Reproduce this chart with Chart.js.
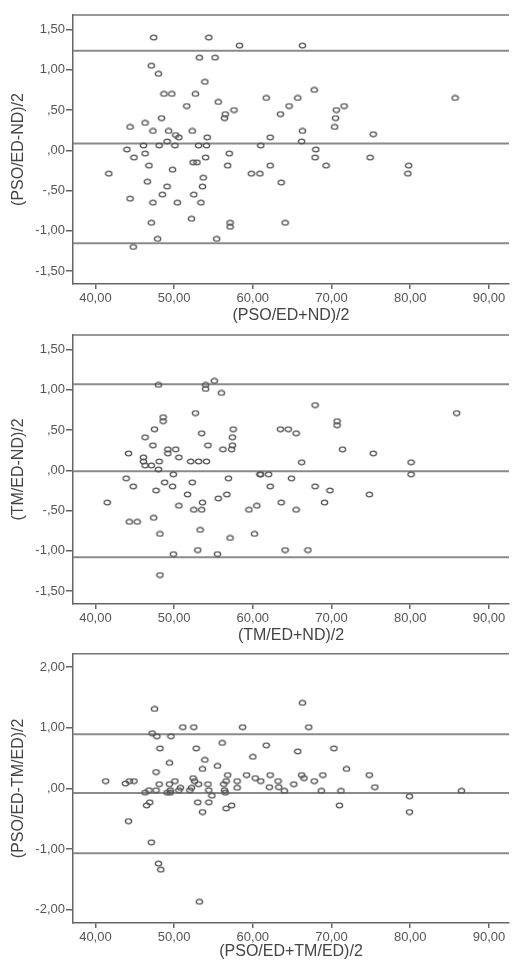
<!DOCTYPE html>
<html>
<head>
<meta charset="utf-8">
<script src="https://cdn.jsdelivr.net/npm/chart.js@4.4.1/dist/chart.umd.min.js"></script>
<style>
  html, body { margin: 0; padding: 0; background: #fff; }
  body { width: 514px; height: 961px; position: relative; overflow: hidden; }
  canvas { position: absolute; left: 0; }
</style>
</head>
<body>
<canvas id="p1" width="514" height="325" style="top:0"></canvas>
<canvas id="p2" width="514" height="320" style="top:325px"></canvas>
<canvas id="p3" width="514" height="316" style="top:645px"></canvas>
<script>
// shared x axis
const xRange = [37.15, 92.55];
const xTicks = [40, 50, 60, 70, 80, 90];

// panel 1: (PSO/ED-ND)/2 vs (PSO/ED+ND)/2
const p1Mean = [47.4, 54.4, 58.3, 66.3, 53.2, 55.2, 47.1, 48.0, 53.9, 67.8, 48.7, 49.7, 52.7, 61.7, 65.7, 85.7,
  55.6, 51.6, 64.6, 71.6, 57.6, 70.6, 56.5, 63.5, 56.4, 48.4, 70.5, 46.3, 44.4, 70.4, 47.3, 49.3, 52.3, 66.3,
  75.3, 50.2, 50.6, 54.2, 62.2, 49.1, 66.2, 46.1, 48.1, 50.1, 53.1, 54.1, 61.0, 44.0, 68.0, 46.3, 57.0, 44.9,
  54.0, 67.9, 74.9, 52.4, 52.9, 46.8, 56.8, 62.2, 69.3, 79.8, 49.8, 41.7, 59.8, 60.9, 79.7, 53.7, 46.6, 63.6,
  49.1, 53.6, 48.5, 52.5, 44.4, 47.3, 50.4, 53.4, 52.2, 47.1, 57.1, 64.1, 57.1, 47.9, 55.4, 44.8];
const p1Diff = [1.40, 1.40, 1.30, 1.30, 1.15, 1.15, 1.05, 0.95, 0.85, 0.75, 0.70, 0.70, 0.70, 0.65, 0.65, 0.65,
  0.60, 0.55, 0.55, 0.55, 0.50, 0.50, 0.45, 0.45, 0.40, 0.40, 0.40, 0.34, 0.29, 0.29, 0.24, 0.24, 0.24, 0.24,
  0.20, 0.19, 0.16, 0.16, 0.16, 0.11, 0.11, 0.06, 0.06, 0.06, 0.06, 0.06, 0.06, 0.01, 0.01, -0.04, -0.04, -0.09,
  -0.09, -0.09, -0.09, -0.15, -0.15, -0.19, -0.19, -0.19, -0.19, -0.19, -0.24, -0.29, -0.29, -0.29, -0.29, -0.34, -0.39, -0.40,
  -0.45, -0.45, -0.55, -0.55, -0.60, -0.65, -0.65, -0.65, -0.85, -0.90, -0.90, -0.90, -0.95, -1.10, -1.10, -1.20];
const p1Limits = [1.235, 0.083, -1.153];
const p1YRange = [-1.66, 1.68];
const p1YTicks = [-1.5, -1, -0.5, 0, 0.5, 1, 1.5];

// panel 2: (TM/ED-ND)/2 vs (TM/ED+ND)/2
const p2Mean = [48.0, 54.0, 54.0, 55.1, 56.0, 67.9, 52.7, 85.9, 48.6, 48.6, 70.7, 70.7, 47.5, 57.5, 63.5, 64.5,
  53.5, 65.5, 46.3, 57.4, 47.3, 54.3, 57.4, 49.2, 50.2, 56.2, 57.3, 71.4, 44.2, 49.2, 75.3, 46.1, 50.6, 46.1,
  48.1, 52.1, 53.1, 54.1, 66.2, 80.1, 46.3, 47.1, 48.0, 49.9, 60.9, 61.0, 62.0, 80.1, 43.9, 56.9, 64.9, 48.8,
  52.3, 44.8, 49.8, 62.2, 67.9, 47.7, 69.8, 51.7, 56.7, 74.8, 55.6, 41.5, 53.6, 63.6, 69.1, 50.6, 60.5, 52.5,
  53.5, 59.5, 65.5, 47.4, 44.3, 45.3, 53.3, 48.2, 60.2, 57.1, 53.0, 64.1, 67.0, 49.9, 55.5, 48.2];
const p2Diff = [1.06, 1.06, 1.01, 1.11, 0.96, 0.81, 0.71, 0.71, 0.66, 0.61, 0.61, 0.56, 0.51, 0.51, 0.51, 0.51,
  0.46, 0.46, 0.41, 0.41, 0.31, 0.31, 0.31, 0.26, 0.26, 0.26, 0.26, 0.26, 0.21, 0.21, 0.21, 0.16, 0.16, 0.11,
  0.11, 0.11, 0.11, 0.11, 0.10, 0.10, 0.06, 0.06, 0.01, -0.05, -0.05, -0.05, -0.05, -0.05, -0.10, -0.10, -0.10, -0.15,
  -0.15, -0.20, -0.20, -0.20, -0.20, -0.25, -0.25, -0.30, -0.30, -0.30, -0.35, -0.40, -0.40, -0.40, -0.40, -0.44, -0.44, -0.49,
  -0.49, -0.49, -0.49, -0.59, -0.64, -0.64, -0.74, -0.79, -0.79, -0.84, -0.99, -0.99, -0.99, -1.04, -1.04, -1.30];
const p2Limits = [1.067, -0.012, -1.08];
const p2YRange = [-1.66, 1.68];
const p2YTicks = [-1.5, -1, -0.5, 0, 0.5, 1, 1.5];

// panel 3: (PSO/ED-TM/ED)/2 vs (PSO/ED+TM/ED)/2
const p3Mean = [66.3, 47.5, 51.1, 52.5, 58.7, 67.1, 47.2, 47.8, 49.6, 56.1, 61.7, 48.2, 52.8, 70.3, 65.7, 60.0,
  53.9, 49.4, 55.5, 53.6, 71.9, 47.7, 59.2, 56.8, 62.2, 66.2, 68.9, 74.8, 60.3, 52.4, 66.5, 41.3, 44.3, 44.9,
  43.8, 50.1, 52.6, 58.0, 56.6, 61.0, 63.2, 67.8, 48.1, 49.4, 54.3, 53.1, 56.3, 65.2, 50.8, 52.2, 58.0, 62.1,
  63.3, 75.5, 49.5, 50.6, 52.0, 46.8, 47.7, 54.4, 56.4, 64.0, 68.7, 71.2, 86.5, 46.3, 49.1, 49.5, 56.5, 54.8,
  79.9, 46.9, 46.5, 53.0, 54.4, 57.3, 56.6, 71.0, 53.6, 79.9, 44.2, 47.1, 48.0, 48.3, 53.2];
const p3Diff = [1.41, 1.31, 1.01, 1.01, 1.01, 1.01, 0.91, 0.86, 0.86, 0.75, 0.71, 0.66, 0.66, 0.66, 0.61, 0.52,
  0.47, 0.42, 0.37, 0.32, 0.32, 0.27, 0.22, 0.22, 0.22, 0.22, 0.22, 0.22, 0.17, 0.17, 0.17, 0.12, 0.12, 0.12,
  0.08, 0.12, 0.12, 0.12, 0.12, 0.12, 0.12, 0.12, 0.07, 0.07, 0.07, 0.07, 0.07, 0.07, 0.01, 0.01, 0.01, 0.02,
  0.02, 0.02, -0.03, -0.03, -0.03, -0.03, -0.03, -0.03, -0.03, -0.04, -0.04, -0.04, -0.04, -0.07, -0.07, -0.07, -0.07, -0.12,
  -0.13, -0.23, -0.28, -0.23, -0.23, -0.28, -0.33, -0.28, -0.39, -0.39, -0.54, -0.89, -1.24, -1.34, -1.87];
const p3Limits = [0.893, -0.076, -1.068];
const p3YRange = [-2.22, 2.22];
const p3YTicks = [-2, -1, 0, 1, 2];

const FONT = "'Liberation Sans', Arial, sans-serif";
const INK = "#555";

// small hollow oval used as point marker
function ovalMarker() {
  const c = document.createElement("canvas");
  c.width = 9;
  c.height = 7;
  const g = c.getContext("2d");
  g.strokeStyle = "#555";
  g.lineWidth = 1.3;
  g.beginPath();
  g.ellipse(4.5, 3.5, 3.2, 2.3, 0, 0, Math.PI * 2);
  g.stroke();
  return c;
}
const marker = ovalMarker();

function fmtX(v) {
  return v.toFixed(2).replace(".", ",");
}

function fmtY(v) {
  let s = Math.abs(v).toFixed(2).replace(".", ",");
  if (Math.abs(v) < 1) s = s.slice(1);
  return (v < 0 ? "-" : "") + s;
}

// draws the top edge of the plot frame
const topFrame = {
  id: "topFrame",
  afterDraw(chart) {
    const { ctx, chartArea } = chart;
    ctx.save();
    ctx.strokeStyle = "#777";
    ctx.lineWidth = 1.5;
    ctx.beginPath();
    ctx.moveTo(chartArea.left, chartArea.top);
    ctx.lineTo(chartArea.right, chartArea.top);
    ctx.stroke();
    ctx.restore();
  },
};

function renderPanel(id, mean, diff, limits, yRange, yTicks, xTitle, yTitle, padTop, xHeight) {
  const points = mean.map((x, i) => ({ x, y: diff[i] }));
  const limitSets = limits.map((v) => ({
    type: "line",
    data: [{ x: xRange[0], y: v }, { x: xRange[1], y: v }],
    borderColor: "#8a8a8a",
    borderWidth: 2,
    pointRadius: 0,
    order: 2,
  }));

  new Chart(document.getElementById(id), {
    type: "scatter",
    data: {
      datasets: [
        { data: points, pointStyle: marker, pointRadius: 3, order: 1 },
        ...limitSets,
      ],
    },
    options: {
      responsive: false,
      animation: false,
      layout: { padding: { top: padTop, right: 0, bottom: 0, left: 0 } },
      plugins: { legend: { display: false }, tooltip: { enabled: false } },
      scales: {
        x: {
          type: "linear",
          min: xRange[0],
          max: xRange[1],
          afterBuildTicks: (s) => { s.ticks = xTicks.map((value) => ({ value })); },
          afterFit: (s) => { s.height = xHeight; },
          border: { color: "#666", width: 1.5 },
          grid: { drawOnChartArea: false, drawTicks: true, tickLength: 5, color: "#666", lineWidth: 1.5 },
          ticks: { callback: fmtX, color: INK, padding: 2, maxRotation: 0, font: { family: FONT, size: 13 } },
          title: { display: true, text: xTitle, color: "#444", padding: { top: 0, bottom: 0 }, font: { family: FONT, size: 16 } },
        },
        y: {
          min: yRange[0],
          max: yRange[1],
          afterBuildTicks: (s) => { s.ticks = yTicks.map((value) => ({ value })); },
          afterFit: (s) => { s.width = 73; },
          border: { color: "#666", width: 1.5 },
          grid: { drawOnChartArea: false, drawTicks: true, tickLength: 7, color: "#666", lineWidth: 1.5 },
          ticks: { callback: fmtY, color: INK, padding: 1, font: { family: FONT, size: 13 } },
          title: { display: true, text: yTitle, color: "#444", padding: { top: 9, bottom: 0 }, font: { family: FONT, size: 16 } },
        },
      },
    },
    plugins: [topFrame],
  });
}

renderPanel("p1", p1Mean, p1Diff, p1Limits, p1YRange, p1YTicks, "(PSO/ED+ND)/2", "(PSO/ED-ND)/2", 15, 41);
renderPanel("p2", p2Mean, p2Diff, p2Limits, p2YRange, p2YTicks, "(TM/ED+ND)/2", "(TM/ED-ND)/2", 10, 41);
renderPanel("p3", p3Mean, p3Diff, p3Limits, p3YRange, p3YTicks, "(PSO/ED+TM/ED)/2", "(PSO/ED-TM/ED)/2", 8, 38);
</script>
</body>
</html>
